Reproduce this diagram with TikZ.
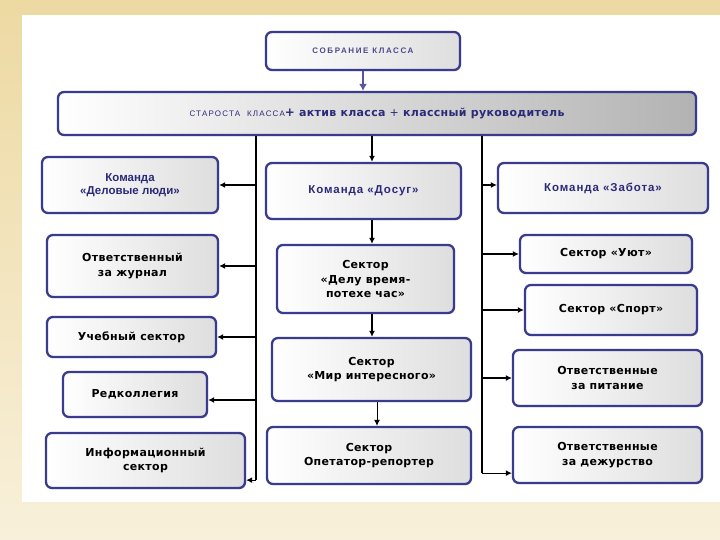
\documentclass[tikz,border=0pt]{standalone}
\usepackage{fontspec}
\setmainfont{DejaVu Sans}
\newfontfamily\lib{Liberation Sans}
\usetikzlibrary{arrows.meta,shadows}
\definecolor{bord}{HTML}{3A3A8E}
\definecolor{navy}{HTML}{2A2A78}
\definecolor{bgtop}{HTML}{EDD9A2}
\definecolor{bgbot}{HTML}{F8F0DA}
\tikzset{
 box/.style={rectangle, rounded corners=6pt, draw=bord, line width=2.3pt,
   left color=white, right color=black!13,
   drop shadow={shadow xshift=1.2pt, shadow yshift=-1.2pt, opacity=0.25},
   align=center, inner sep=2pt, text=black,
   font=\bfseries\fontsize{11}{14.5}\selectfont\addfontfeature{LetterSpace=3}},
 bluet/.style={text=navy, font=\lib\bfseries\fontsize{11.5}{13.5}\selectfont},
 arr/.style={-{Latex[length=6pt,width=6pt]}, line width=1.2pt, black},
 trunk/.style={line width=1.5pt, black},
}
\newcommand\bx[7][]{\node[box,minimum width={(#5)-(#3)},minimum height={(#6)-(#4)},#1] (#2) at ({((#3)+(#5))/2},{((#4)+(#6))/2}) {#7};}
\begin{document}
\begin{tikzpicture}[x=1pt,y=-1pt]
\useasboundingbox (0,0) rectangle (720,540);
\fill[top color=bgtop, bottom color=bgbot] (0,0) rectangle (720,540);
\fill[white] (22,15) rectangle (720,502);

\bx{sob}{266}{32}{460}{70}{\lib\bfseries\color{navy!85}\fontsize{8}{9}\selectfont\addfontfeature{LetterSpace=20}СОБРАНИЕ КЛАССА}
\bx[right color=black!30]{star}{58}{92}{696}{135}{\color{navy}{\lib\mdseries\fontsize{8}{9}\selectfont\addfontfeature{LetterSpace=15}СТАРОСТА\ \ КЛАССА}{\large +} \fontsize{11}{13}\selectfont актив класса {\mdseries +} классный руководитель}

\bx[bluet]{del}{42}{157}{218}{213}{Команда\\«Деловые люди»}
\bx{jur}{47}{235}{218}{297}{Ответственный\\за журнал}
\bx{ucheb}{47}{317}{216}{357}{Учебный сектор}
\bx{red}{63}{372}{207}{417}{Редколлегия}
\bx{inf}{46}{433}{245}{488}{Информационный\\сектор}

\bx[bluet]{dos}{266}{163}{461}{219}{\addfontfeature{LetterSpace=8}Команда «Досуг»}
\bx{delu}{277}{245}{454}{313}{Сектор\\«Делу время-\\потехе час»}
\bx{mir}{272}{338}{471}{401}{Сектор\\«Мир интересного»}
\bx{oper}{267}{427}{471}{484}{Сектор\\Опетатор-репортер}

\bx[bluet]{zab}{498}{163}{708}{213}{\addfontfeature{LetterSpace=8}Команда «Забота»}
\bx{uyut}{520}{235}{692}{273}{Сектор «Уют»}
\bx{sport}{525}{285}{697}{335}{Сектор «Спорт»}
\bx{pit}{513}{350}{702}{406}{Ответственные\\за питание}
\bx{dezh}{513}{427}{702}{483}{Ответственные\\за дежурство}

% top arrow
\draw[line width=2.6pt, bord!85, -{Latex[length=7pt,width=8pt]}] (sob.south) -- (sob.south |- star.north);

% left trunk
\coordinate (lt) at ([xshift=-121pt]star.south);
\coordinate (lb) at ([yshift=-344pt]lt);
\draw[trunk] (lt) -- (lb);
\draw[arr] (lt |- del.east) -- (del.east);
\draw[arr] (lt |- jur.east) -- (jur.east);
\draw[arr] (lt |- ucheb.east) -- (ucheb.east);
\draw[arr] ([yshift=-5.5pt]red.east -| lt) -- ([yshift=-5.5pt]red.east);
\draw[arr] (lb) -- (lb -| inf.east);

% middle column
\coordinate (mt) at ([xshift=-5pt]star.south);
\draw[arr] (mt) -- (mt |- dos.north);
\draw[arr] (dos.south -| mt) -- (delu.north -| mt);
\draw[arr] (delu.south -| mt) -- (mir.north -| mt);
\draw[arr, line width=1pt] (mir.south -| star.south) -- (oper.north -| star.south);

% right trunk
\coordinate (rt) at ([xshift=105pt]star.south);
\coordinate (rb) at ([yshift=-337pt]rt);
\draw[trunk] (rt) -- (rb);
\draw[arr] ([yshift=3pt]zab.west -| rt) -- ([yshift=3pt]zab.west);
\draw[arr] (rt |- uyut.west) -- (uyut.west);
\draw[arr] (rt |- sport.west) -- (sport.west);
\draw[arr] (rt |- pit.west) -- (pit.west);
\draw[arr] (rb) -- (rb -| dezh.west);
\end{tikzpicture}
\end{document}
